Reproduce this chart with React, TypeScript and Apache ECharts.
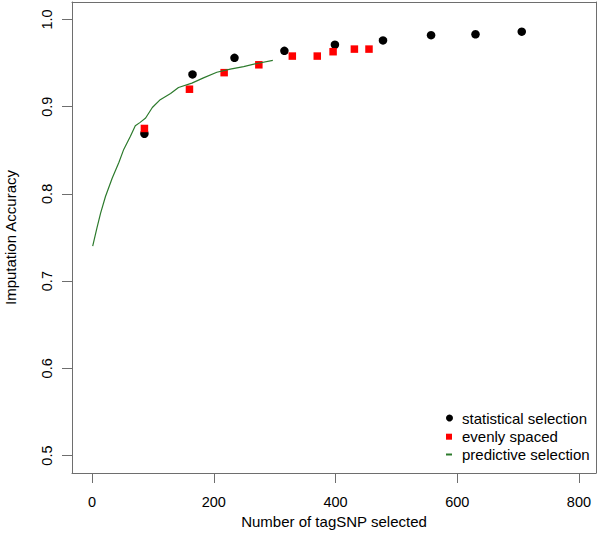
import React, { useEffect, useRef } from "react";
import * as echarts from "echarts";

const FONT = "'Liberation Sans', Arial, sans-serif";

// statistical selection (black circles)
const STAT_X = [86, 165, 234, 316, 399, 478, 557, 630, 706];
const STAT_Y = [0.869, 0.937, 0.956, 0.964, 0.971, 0.976, 0.982, 0.983, 0.986];

// evenly spaced (red squares)
const EVEN_X = [86, 160, 217, 274, 329, 370, 396, 431, 455];
const EVEN_Y = [0.875, 0.920, 0.939, 0.948, 0.958, 0.958, 0.963, 0.966, 0.966];

// predictive selection (green curve)
const PRED_X = [1, 8, 14, 22, 33, 44, 52, 63, 71, 79, 88, 99, 112, 129, 142, 164, 183, 205, 227, 249, 271, 297];
const PRED_Y = [0.740, 0.761, 0.778, 0.797, 0.818, 0.836, 0.851, 0.866, 0.878, 0.882, 0.887, 0.899, 0.908, 0.915, 0.922, 0.927, 0.933, 0.9395, 0.943, 0.946, 0.9495, 0.953];

const X_TICKS = [0, 200, 400, 600, 800];
const Y_TICKS = [0.5, 0.6, 0.7, 0.8, 0.9, 1.0];

const zip = (xs: number[], ys: number[]) => xs.map((x, i) => [x, ys[i]]);

export default function App() {
  const ref = useRef<HTMLDivElement>(null);

  useEffect(() => {
    if (!ref.current) return;
    const chart = echarts.init(ref.current, undefined, { renderer: "svg" });
    const axisGray = "#6e6e6e";
    const legendText = { fontSize: 15, color: "#000", fontFamily: FONT };
    const frameAxis = {
      type: "value",
      splitLine: { show: false },
      axisTick: { show: false },
      axisLabel: { show: false },
      axisLine: { show: true, onZero: false, lineStyle: { color: axisGray, width: 1 } },
    };
    chart.setOption({
      animation: false,
      backgroundColor: "#ffffff",
      textStyle: { fontFamily: FONT },
      grid: {
        left: 72,
        right: 4,
        top: 2,
        bottom: 76,
        containLabel: false,
        outerBoundsMode: "none",
      },
      xAxis: [
        {
          type: "value",
          position: "bottom",
          min: -33,
          max: 828,
          name: "Number of tagSNP selected",
          nameLocation: "middle",
          nameGap: 35,
          nameTextStyle: { fontSize: 15, color: "#000", fontFamily: FONT },
          splitLine: { show: false },
          axisLine: { show: true, onZero: false, lineStyle: { color: axisGray, width: 1 } },
          axisTick: {
            show: true,
            length: 10,
            customValues: X_TICKS,
            lineStyle: { color: axisGray, width: 1 },
          },
          axisLabel: {
            customValues: X_TICKS,
            fontSize: 14.5,
            color: "#000",
            margin: 21,
            fontFamily: FONT,
            formatter: (v: number) => String(v),
          },
        },
        { ...frameAxis, position: "top", min: -33, max: 828 },
      ],
      yAxis: [
        {
          type: "value",
          position: "left",
          min: 0.48,
          max: 1.02,
          name: "Imputation Accuracy",
          nameLocation: "middle",
          nameGap: 54,
          nameTextStyle: { fontSize: 15, color: "#000", fontFamily: FONT },
          splitLine: { show: false },
          axisLine: { show: true, onZero: false, lineStyle: { color: axisGray, width: 1 } },
          axisTick: {
            show: true,
            length: 10,
            customValues: Y_TICKS,
            lineStyle: { color: axisGray, width: 1 },
          },
          axisLabel: {
            customValues: Y_TICKS,
            rotate: 90,
            fontSize: 14.5,
            color: "#000",
            margin: 18,
            fontFamily: FONT,
            formatter: (v: number) => v.toFixed(1),
          },
        },
        { ...frameAxis, position: "right", min: 0.48, max: 1.02 },
      ],
      legend: [
        {
          data: [{ name: "statistical selection", icon: "circle" }],
          left: 446,
          top: 410.5,
          padding: 0,
          itemWidth: 7,
          itemHeight: 7,
          selectedMode: false,
          textStyle: { ...legendText, padding: [0, 0, 0, 4] },
        },
        {
          data: [{ name: "evenly spaced", icon: "rect" }],
          left: 446,
          top: 429.2,
          padding: 0,
          itemWidth: 6,
          itemHeight: 6,
          selectedMode: false,
          textStyle: { ...legendText, padding: [0, 0, 0, 5] },
        },
        {
          data: [{ name: "predictive selection", icon: "rect" }],
          left: 446,
          top: 447,
          padding: 0,
          itemWidth: 6,
          itemHeight: 2,
          selectedMode: false,
          textStyle: { ...legendText, padding: [0, 0, 0, 5] },
        },
      ],
      series: [
        {
          name: "statistical selection",
          type: "scatter",
          symbol: "circle",
          symbolSize: 8.5,
          itemStyle: { color: "#000000", opacity: 1 },
          data: zip(STAT_X, STAT_Y),
          z: 2,
        },
        {
          name: "evenly spaced",
          type: "scatter",
          symbol: "rect",
          symbolSize: 7.5,
          itemStyle: { color: "#ff0000", opacity: 1 },
          data: zip(EVEN_X, EVEN_Y),
          z: 3,
        },
        {
          name: "predictive selection",
          type: "line",
          showSymbol: false,
          symbol: "none",
          itemStyle: { color: "#2c7a2c" },
          lineStyle: { color: "#2c7a2c", width: 1.2 },
          data: zip(PRED_X, PRED_Y),
          z: 4,
        },
      ],
    });
    return () => chart.dispose();
  }, []);

  return (
    <div
      ref={ref}
      style={{ position: "fixed", left: 0, top: 0, width: 600, height: 549, background: "#fff" }}
    />
  );
}
